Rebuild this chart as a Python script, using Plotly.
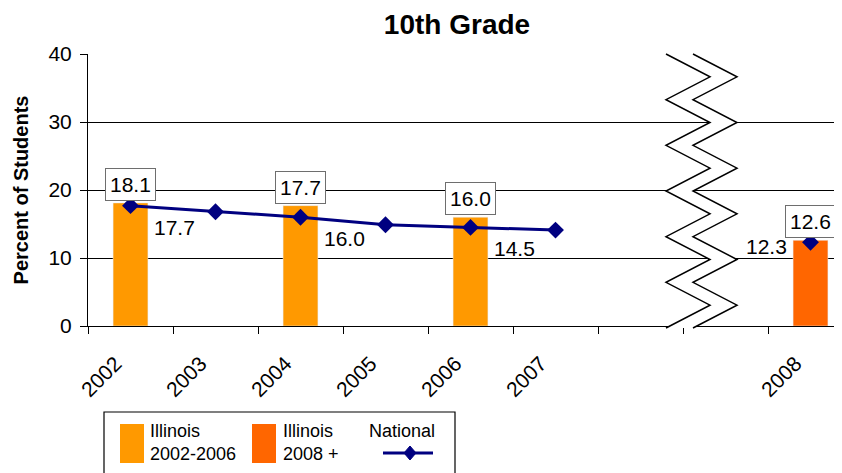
import plotly.graph_objects as go

# x categories (two blank slots stand for the axis break)
categories = ["2002", "2003", "2004", "2005", "2006", "2007", " ", "  ", "2008"]

il_years = ["2002", "2004", "2006"]
il_values = [18.1, 17.7, 16.0]

il08_years = ["2008"]
il08_values = [12.6]

nat_years = categories
nat_values = [17.7, 16.8, 16.0, 14.9, 14.5, 14.1, None, None, 12.3]

# national values that get a printed label
nat_label_years = ["2002", "2004", "2006", "2008"]

FONT = "Liberation Sans, Arial, sans-serif"
ORANGE = "#FF9900"
DARK_ORANGE = "#FF6600"
NAVY = "#000080"

W, H = 842, 473
OFF = 8  # page body margin
# plot area in page pixels
X0, Y0, Y1 = 88, 54, 326
L = X0 - OFF
T = Y0 - OFF
B = H - (Y1 - OFF)
PLOT_W = W - L
PLOT_H = Y1 - Y0


def px(x):
    return (x - X0) / PLOT_W


def py(y):
    return (Y1 - y) / PLOT_H


def cat_pos(yr):
    # annotations on a category axis read numeric-looking strings as indexes
    return categories.index(yr)


fig = go.Figure()
fig.add_trace(go.Bar(x=il_years, y=il_values, name="Illinois 2002-2006",
                     marker_color=ORANGE, width=0.41, showlegend=False))
fig.add_trace(go.Bar(x=il08_years, y=il08_values, name="Illinois 2008 +",
                     marker_color=DARK_ORANGE, width=0.41, showlegend=False))
fig.add_trace(go.Scatter(x=nat_years, y=nat_values, name="National",
                         mode="lines+markers", connectgaps=False,
                         line=dict(color=NAVY, width=3),
                         marker=dict(symbol="diamond", size=13, color=NAVY),
                         showlegend=False))

label_font = dict(family=FONT, size=21, color="black")
annotations = []
# boxed labels on the Illinois bars
for yr, v in list(zip(il_years, il_values)) + list(zip(il08_years, il08_values)):
    annotations.append(dict(xref="x", yref="y", x=cat_pos(yr), y=v, text=f"{v:.1f}",
                            showarrow=False, yanchor="bottom", yshift=2,
                            bgcolor="white", bordercolor="#6e6e6e",
                            borderwidth=1, borderpad=4, font=label_font))
# plain labels on the national line
for yr, v in zip(nat_years, nat_values):
    if yr not in nat_label_years:
        continue
    if yr == "2008":
        annotations.append(dict(xref="x", yref="y", x=cat_pos(yr), y=v, text=f"{v:.1f}",
                                showarrow=False, xanchor="right", xshift=-22, yshift=-4,
                                font=label_font))
    else:
        annotations.append(dict(xref="x", yref="y", x=cat_pos(yr), y=v, text=f"{v:.1f}",
                                showarrow=False, xanchor="left", yanchor="top",
                                xshift=21, yshift=-8, font=label_font))

# custom legend box at the bottom
legend_font = dict(family=FONT, size=18, color="black")
annotations += [
    dict(xref="paper", yref="paper", x=px(148), y=py(442), text="Illinois<br>2002-2006",
         showarrow=False, xanchor="left", yanchor="middle", align="left", font=legend_font),
    dict(xref="paper", yref="paper", x=px(281), y=py(442), text="Illinois<br>2008 +",
         showarrow=False, xanchor="left", yanchor="middle", align="left", font=legend_font),
    dict(xref="paper", yref="paper", x=px(402), y=py(431), text="National",
         showarrow=False, xanchor="center", yanchor="middle", font=legend_font),
]

shapes = []
# axis break: two zigzag lines with white between them
zig_y = [Y0 + i * (328 - Y0) / 12 for i in range(13)]
left_x = [666 if i % 2 == 0 else 710 for i in range(13)]
right_x = [x + 27 for x in left_x]
pts_left = [(px(x), py(y)) for x, y in zip(left_x, zig_y)]
pts_right = [(px(x), py(y)) for x, y in zip(right_x, zig_y)]


def path_of(pts, close=False):
    s = "M " + " L ".join(f"{x:.5f},{y:.5f}" for x, y in pts)
    return s + (" Z" if close else "")


shapes.append(dict(type="path", xref="paper", yref="paper",
                   path=path_of(pts_left + pts_right[::-1], close=True),
                   fillcolor="white", line=dict(width=0), layer="above"))
for pts in (pts_left, pts_right):
    shapes.append(dict(type="path", xref="paper", yref="paper", path=path_of(pts),
                       line=dict(color="black", width=1.5), layer="above"))

# legend frame and swatches
shapes += [
    dict(type="rect", xref="paper", yref="paper", x0=px(104), x1=px(455),
         y0=py(412), y1=py(495), line=dict(color="black", width=1.2), fillcolor="white",
         layer="below"),
    dict(type="rect", xref="paper", yref="paper", x0=px(120), x1=px(144),
         y0=py(424), y1=py(463), line=dict(width=0), fillcolor=ORANGE),
    dict(type="rect", xref="paper", yref="paper", x0=px(252), x1=px(276),
         y0=py(424), y1=py(463), line=dict(width=0), fillcolor=DARK_ORANGE),
    dict(type="line", xref="paper", yref="paper", x0=px(383), x1=px(433),
         y0=py(453), y1=py(453), line=dict(color=NAVY, width=3)),
    dict(type="path", xref="paper", yref="paper",
         path=path_of([(px(410), py(446)), (px(416), py(453)), (px(410), py(460)),
                       (px(404), py(453))], close=True),
         fillcolor=NAVY, line=dict(color=NAVY, width=1)),
]

fig.update_layout(
    width=W, height=H,
    margin=dict(l=L, r=0, t=T, b=B, autoexpand=False),
    paper_bgcolor="white", plot_bgcolor="white",
    barmode="overlay",
    font=dict(family=FONT, color="black"),
    title=dict(text="<b>10th Grade</b>", x=(457 - OFF) / W, xanchor="center",
               y=1 - (24 - OFF) / H, yanchor="middle",
               font=dict(family=FONT, size=28, color="black")),
    annotations=annotations,
    shapes=shapes,
)
fig.update_xaxes(type="category", categoryorder="array", categoryarray=categories,
                 range=[-0.5, -0.5 + PLOT_W / 85], tickson="boundaries",
                 ticks="outside", ticklen=7, tickcolor="black",
                 showline=True, linecolor="black", linewidth=1,
                 showgrid=False, tickangle=-45, ticklabelshift=-15,
                 ticklabelstandoff=16,
                 tickfont=dict(family=FONT, size=21, color="black"))
fig.update_yaxes(range=[0, 40], dtick=10, ticks="outside", ticklen=7, tickcolor="black",
                 showline=True, linecolor="black", linewidth=1,
                 showgrid=True, gridcolor="black", gridwidth=1, zeroline=False,
                 ticklabelstandoff=4,
                 tickfont=dict(family=FONT, size=21, color="black"),
                 title=dict(text="<b>Percent of Students</b>", standoff=14,
                            font=dict(family=FONT, size=20, color="black")))

fig.write_html("out.html")
